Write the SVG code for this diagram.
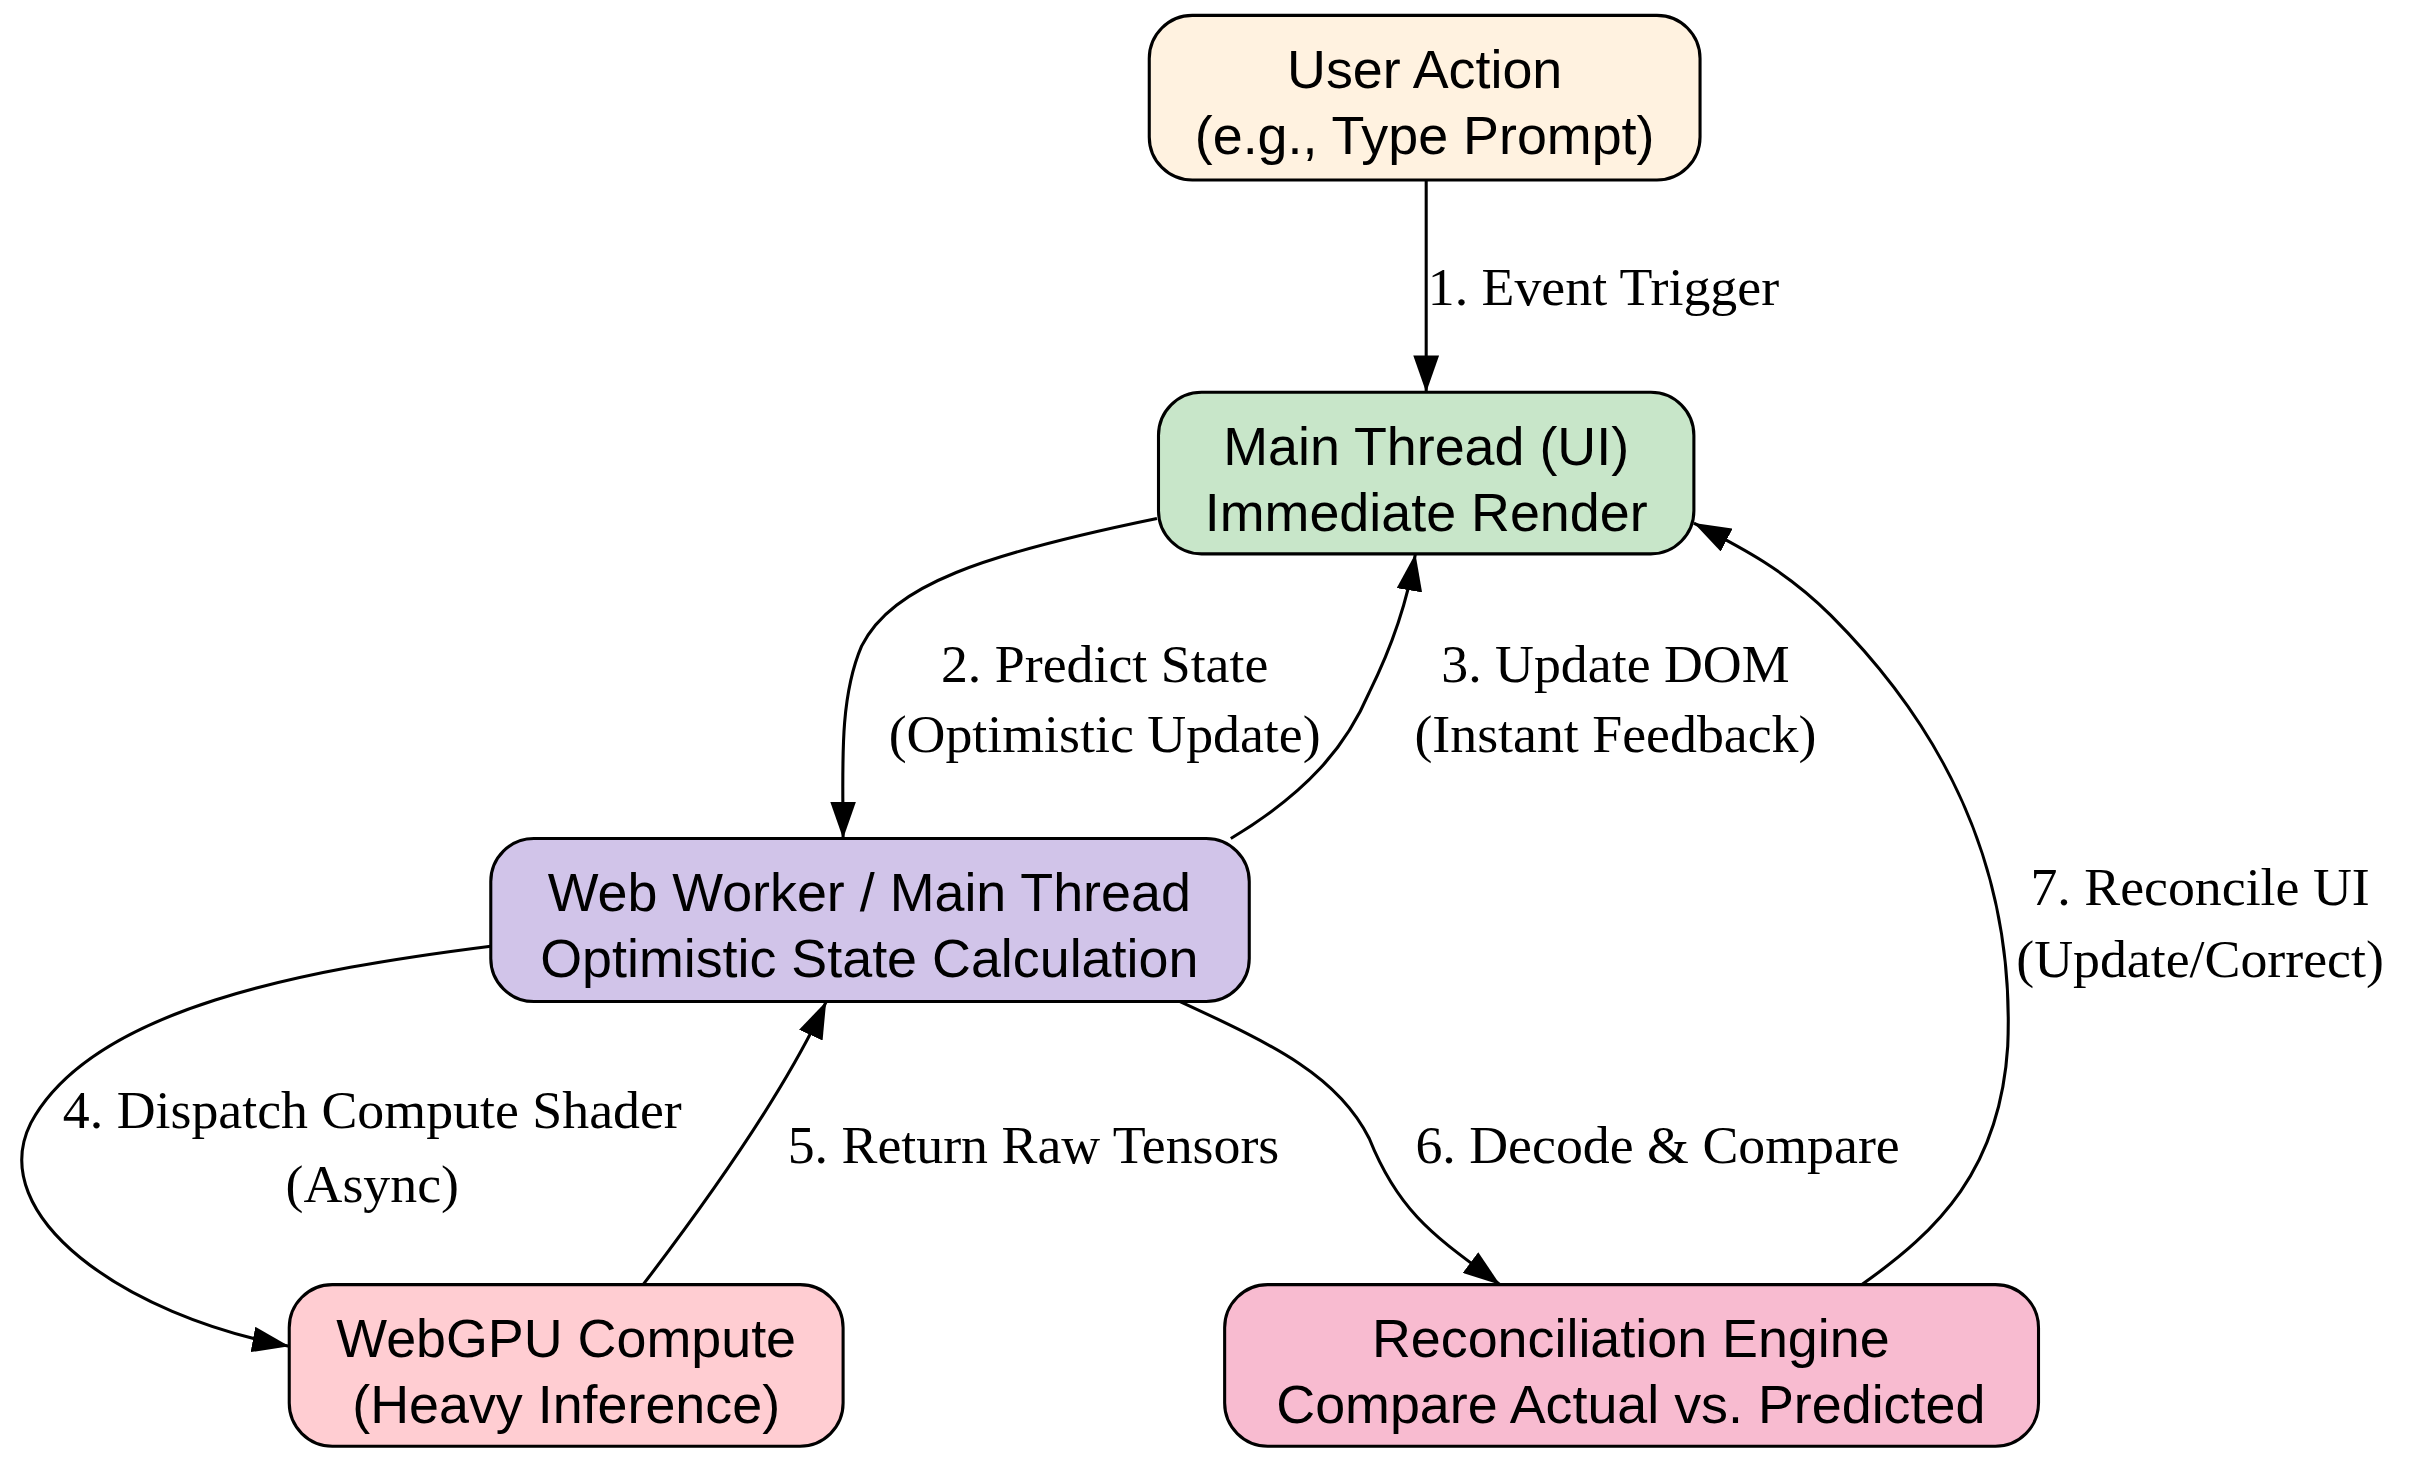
<svg xmlns="http://www.w3.org/2000/svg" width="2413" height="1460" viewBox="0 0 2413 1460">
<style>
.n{stroke:#000;stroke-width:2}
.t{font-family:"Liberation Sans",Arial,sans-serif;font-size:35px;text-anchor:middle;fill:#000}
.l{font-family:"Liberation Serif","Times New Roman",serif;font-size:35px;fill:#000}
.e{fill:none;stroke:#000;stroke-width:2}
</style>
<defs>
<marker id="a" viewBox="0 0 10 7" refX="10" refY="3.5" markerWidth="12" markerHeight="8.4" orient="auto" markerUnits="strokeWidth">
<path d="M0,0L10,3.5L0,7z" fill="#000"/>
</marker>
</defs>
<rect width="2413" height="1460" fill="#fff"/>
<g transform="scale(1.5385)">
<g id="edges">
<path class="e" marker-end="url(#a)" d="M927,117L927,255"/>
<text class="l" x="928" y="198">1. Event Trigger</text>
<path class="e" marker-end="url(#a)" d="M752,337C640,360 580,380 560,420C545,455 548,500 548,545"/>
<text class="l" x="718" y="443" text-anchor="middle">2. Predict State</text>
<text class="l" x="718" y="489" text-anchor="middle">(Optimistic Update)</text>
<path class="e" marker-end="url(#a)" d="M800,545C850,515 875,485 890,450C905,420 915,390 920,360"/>
<text class="l" x="1050" y="443" text-anchor="middle">3. Update DOM</text>
<text class="l" x="1050" y="489" text-anchor="middle">(Instant Feedback)</text>
<path class="e" marker-end="url(#a)" d="M319,615C200,630 60,655 20,730C-10,790 80,855 188,875"/>
<text class="l" x="242" y="733" text-anchor="middle">4. Dispatch Compute Shader</text>
<text class="l" x="242" y="781" text-anchor="middle">(Async)</text>
<path class="e" marker-end="url(#a)" d="M418,835C460,780 510,710 537,651"/>
<text class="l" x="512" y="756">5. Return Raw Tensors</text>
<path class="e" marker-end="url(#a)" d="M767,651C830,680 870,700 890,740C910,790 935,805 975,835"/>
<text class="l" x="920" y="756">6. Decode &amp; Compare</text>
<path class="e" marker-end="url(#a)" d="M1210,835C1260,800 1300,760 1305,680C1310,560 1260,470 1190,400C1160,370 1130,355 1101,340"/>
<text class="l" x="1430" y="588" text-anchor="middle">7. Reconcile UI</text>
<text class="l" x="1430" y="635" text-anchor="middle">(Update/Correct)</text>
</g>
<g id="user"><rect class="n" x="747" y="10" width="358" height="107" rx="28" fill="#FFF2E0"/>
<text class="t" x="926" y="57">User Action</text><text class="t" x="926" y="100">(e.g., Type Prompt)</text></g>
<g id="main"><rect class="n" x="753" y="255" width="348" height="105" rx="28" fill="#C8E6C9"/>
<text class="t" x="927" y="302">Main Thread (UI)</text><text class="t" x="927" y="345">Immediate Render</text></g>
<g id="worker"><rect class="n" x="319" y="545" width="493" height="106" rx="28" fill="#D1C4E9"/>
<text class="t" x="565" y="592">Web Worker / Main Thread</text><text class="t" x="565" y="635">Optimistic State Calculation</text></g>
<g id="webgpu"><rect class="n" x="188" y="835" width="360" height="105" rx="28" fill="#FFCDD2"/>
<text class="t" x="368" y="882">WebGPU Compute</text><text class="t" x="368" y="925">(Heavy Inference)</text></g>
<g id="recon"><rect class="n" x="796" y="835" width="529" height="105" rx="28" fill="#F8BBD0"/>
<text class="t" x="1060" y="882">Reconciliation Engine</text><text class="t" x="1060" y="925">Compare Actual vs. Predicted</text></g>
</g>
</svg>
